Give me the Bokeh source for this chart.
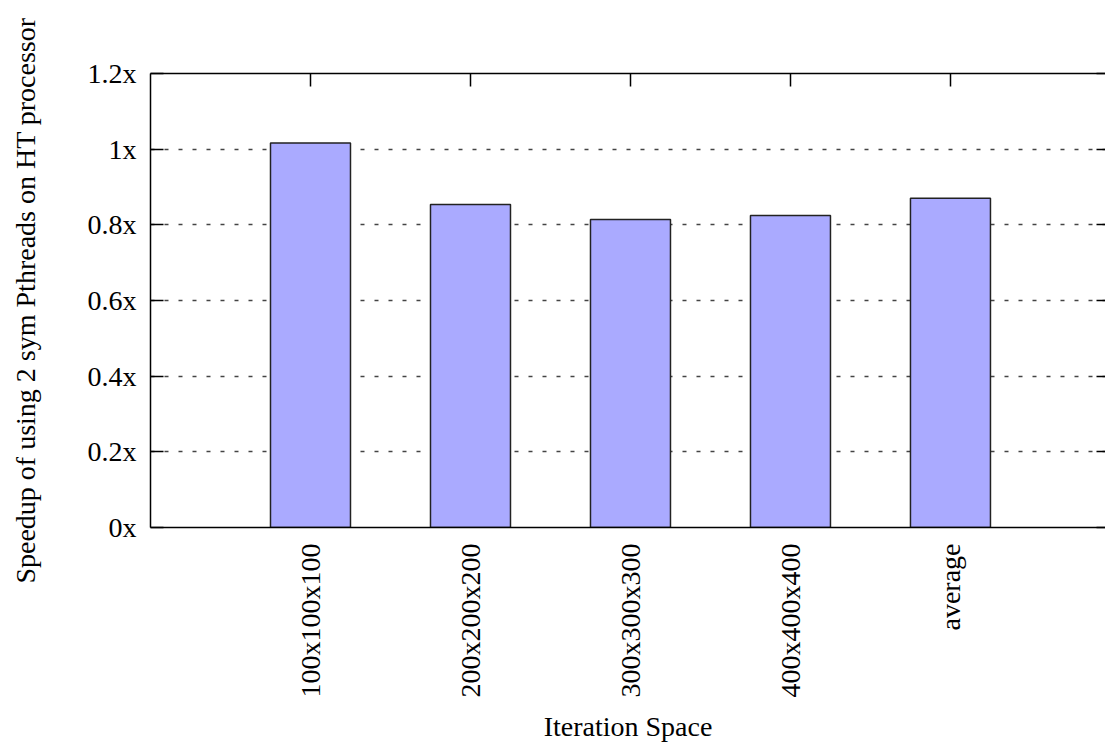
import math
from bokeh.plotting import figure
from bokeh.models import Range1d, FixedTicker, LinearAxis, CustomJSTickFormatter, ColumnDataSource
from bokeh.embed import file_html
from bokeh.resources import INLINE

categories = ["100x100x100", "200x200x200", "300x300x300", "400x400x400", "average"]
speedup = [1.016, 0.854, 0.814, 0.825, 0.870]
y_ticks = [0, 0.2, 0.4, 0.6, 0.8, 1.0, 1.2]

xpos = list(range(1, len(categories) + 1))
src = ColumnDataSource(dict(x=xpos, top=speedup, cat=categories))

FONT = "Liberation Serif"

p = figure(width=1105, height=744, output_backend="svg", toolbar_location=None,
           x_range=Range1d(0, 5.969), y_range=Range1d(0, 1.2),
           min_border_left=150, min_border_right=0, min_border_top=73, min_border_bottom=215)
p.outline_line_color = None
p.background_fill_color = "white"
p.border_fill_color = "white"

p.vbar(x="x", top="top", width=0.5, bottom=0, source=src,
       fill_color="#aaaaff", line_color="#222222", line_width=1.5)

# bottom axis
xa = p.xaxis[0]
xa.ticker = FixedTicker(ticks=xpos)
xa.major_label_overrides = {x: c for x, c in zip(xpos, categories)}
xa.major_label_orientation = math.pi / 2
xa.major_tick_in = 0
xa.major_tick_out = 0
xa.minor_tick_in = 0
xa.minor_tick_out = 0
xa.major_label_standoff = 16
xa.axis_label = "Iteration Space"
xa.axis_label_standoff = 10
xa.axis_line_color = "black"
xa.axis_line_width = 1.5

# left axis
ya = p.yaxis[0]
ya.ticker = FixedTicker(ticks=y_ticks)
ya.formatter = CustomJSTickFormatter(code="return (Math.round(tick*10)/10) + 'x';")
ya.major_tick_in = 13
ya.major_tick_out = 0
ya.minor_tick_in = 0
ya.minor_tick_out = 0
ya.major_label_standoff = 14
ya.axis_label = "Speedup of using 2 sym Pthreads on HT processor"
ya.axis_label_standoff = 44
ya.axis_line_color = "black"
ya.axis_line_width = 1.5

for ax in (xa, ya):
    ax.major_label_text_font = FONT
    ax.major_label_text_font_size = "28px"
    ax.major_label_text_color = "black"
    ax.axis_label_text_font = FONT
    ax.axis_label_text_font_size = "28px"
    ax.axis_label_text_font_style = "normal"
    ax.axis_label_text_color = "black"
    ax.major_tick_line_color = "black"
    ax.major_tick_line_width = 1.5

empty = CustomJSTickFormatter(code="return '';")

# top mirror axis
top = LinearAxis(ticker=FixedTicker(ticks=xpos), formatter=empty,
                 major_label_standoff=0, major_tick_in=13, major_tick_out=0,
                 minor_tick_in=0, minor_tick_out=0, axis_line_color="black",
                 axis_line_width=1.5, major_tick_line_color="black", major_tick_line_width=1.5)
p.add_layout(top, "above")

# right mirror ticks
right = LinearAxis(ticker=FixedTicker(ticks=y_ticks), formatter=empty,
                   major_label_standoff=0, major_tick_in=9, major_tick_out=0,
                   minor_tick_in=0, minor_tick_out=0, axis_line_color=None,
                   major_tick_line_color="black", major_tick_line_width=1.5)
p.add_layout(right, "right")

p.xgrid.visible = False
p.ygrid.ticker = FixedTicker(ticks=y_ticks)
p.ygrid.grid_line_color = "#444444"
p.ygrid.grid_line_width = 1.5
p.ygrid.grid_line_dash = "4 10"

open("out.html", "w").write(file_html(p, INLINE))
